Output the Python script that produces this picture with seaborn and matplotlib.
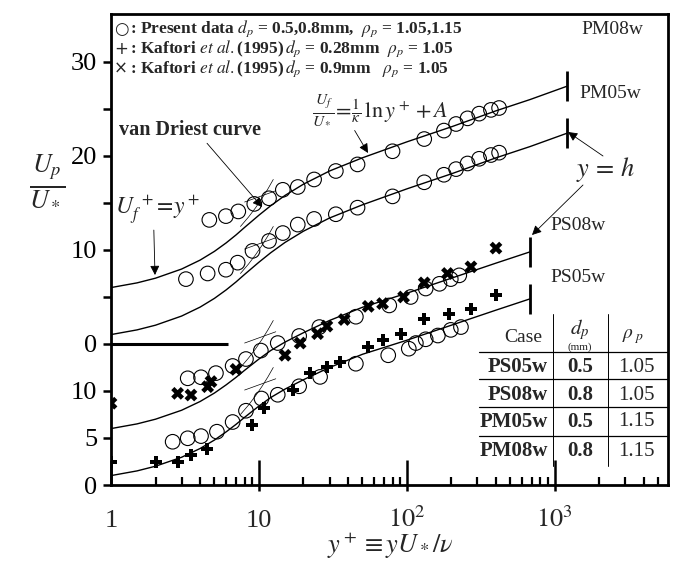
import numpy as np
import pandas as pd
import matplotlib
matplotlib.use("Agg")
import matplotlib.pyplot as plt
import seaborn as sns
from matplotlib.lines import Line2D
from matplotlib.transforms import blended_transform_factory
from matplotlib.ticker import FixedLocator, NullFormatter

sns.set_theme(style="ticks")
plt.rcParams['font.family'] = ['Liberation Serif', 'DejaVu Sans']
plt.rcParams['mathtext.fontset'] = 'stix'

# ---------------- data ----------------
# upper block (PM cases), values in the upper tick scale
pm08_x = [4.62, 5.98, 7.25, 9.3, 11.7, 14.5, 18.3, 23.6, 33.1, 46.4, 80, 131, 178, 215, 257, 308, 370, 420]
pm08_u = [13.2, 13.6, 14.1, 14.9, 15.5, 16.4, 16.7, 17.5, 18.4, 19.1, 20.5, 21.8, 22.7, 23.4, 24.0, 24.5, 24.9, 25.1]
pm05_x = [3.21, 4.5, 5.98, 7.18, 9.05, 11.7, 14.5, 18.3, 23.6, 33.1, 46.4, 80, 131, 178, 215, 257, 308, 370, 420]
pm05_u = [6.9, 7.5, 7.9, 8.65, 9.9, 10.96, 11.8, 12.7, 13.3, 13.8, 14.5, 15.7, 17.2, 18.0, 18.6, 19.2, 19.7, 20.1, 20.35]

# lower block (PS cases and Kaftori et al.), values in the lower tick scale
ps08_x = [3.3, 4.06, 5.12, 6.64, 8.17, 10.3, 13.4, 18.7, 25.6, 45.2, 76, 106, 134, 166, 198, 226]
ps08_u = [11.35, 11.46, 11.9, 12.66, 13.4, 14.3, 15.1, 15.85, 16.8, 17.9, 19.1, 20.0, 20.9, 21.4, 21.9, 22.3]
ps05_x = [2.61, 3.3, 4.06, 5.2, 6.64, 8.17, 10.4, 13.4, 18.7, 25.9, 45.2, 74.8, 103, 115, 134, 162, 198, 232]
ps05_u = [4.6, 4.97, 5.2, 5.67, 6.7, 7.9, 9.2, 9.6, 10.5, 11.5, 12.9, 13.8, 14.5, 15.1, 15.5, 15.9, 16.5, 16.8]

kaf028_x = [1.0, 2.01, 2.82, 3.47, 4.45, 8.93, 10.9, 16.9, 22.2, 28.8, 35.4, 54.8, 68.5, 91, 131, 193, 271, 400]
kaf028_u = [2.4, 2.48, 2.48, 3.19, 3.8, 6.4, 8.2, 10.1, 11.9, 12.5, 13.1, 14.65, 15.4, 16.1, 17.7, 18.2, 18.7, 20.2]
kaf09_x = [1.0, 2.82, 3.47, 4.5, 4.74, 7.0, 15, 19.0, 24.9, 28.8, 37.7, 54.8, 68.5, 95, 131, 188, 271, 400]
kaf09_u = [8.7, 9.75, 9.57, 10.46, 11.0, 12.3, 13.8, 15.1, 16.1, 16.9, 17.6, 19.0, 19.3, 20.0, 21.5, 22.5, 23.2, 25.2]

# van Driest curves (y+, U+)
vd_yp = [1, 1.5, 2, 3, 4, 5, 6, 7, 8, 10, 12, 15, 20, 30, 50, 100, 200, 400, 680, 1200]
vd_upper_u = [1.0, 1.5, 2.0, 2.97, 3.92, 4.85, 5.75, 6.6, 7.4, 8.7, 9.7, 10.8, 12.0, 13.4, 14.8, 16.5, 18.1, 19.8, 21.0, 22.4]
vd_lower_u = [1.0, 1.5, 2.0, 2.95, 3.88, 4.78, 5.65, 6.45, 7.2, 8.4, 9.3, 10.2, 11.2, 12.5, 13.9, 15.4, 17.0, 18.6, 19.8]
# short asymptote segments drawn near the crossing
loglaw_yp = [8, 13]
loglaw_up = [10.1, 11.3]
linear_yp = [7.5, 8.5, 9.5, 10.5, 11.5, 12.5]
linear_up = [7.5, 8.5, 9.5, 10.5, 11.5, 12.5]

# y = h ends of the profiles
h_pm = 1200
h_ps = 680
shift_08 = 5          # 08w curves shifted by 5
upper_zero = 15       # where the upper scale's 0 sits on the lower scale

ytick_pos = [0, 5, 10, 15, 25, 35, 45]
ytick_lab = ['0', '5', '10', '0', '10', '20', '30']
ytick_minor = [20, 30, 40]
xtick_pos = [1, 10, 100, 1000]
xtick_lab = ['1', '10', r'$10^2$', r'$10^3$']

table_cases = ['PS05w', 'PS08w', 'PM05w', 'PM08w']
table_dp = ['0.5', '0.8', '0.5', '0.8']
table_rho = ['1.05', '1.05', '1.15', '1.15']

# ---------------- figure ----------------
W, H = 678, 577
fig = plt.figure(figsize=(W / 100, H / 100), dpi=100)
ax = fig.add_axes([111 / W, 1 - 485 / H, (668 - 111) / W, (485 - 14) / H])
ax.set_xscale('log')
ax.set_xlim(1, 10 ** 3.765)
ax.set_ylim(0, 50.1)


def fx(px):
    return px / W


def fy(py):
    return 1 - py / H


# profile curves
vd_yp_a = np.array(vd_yp)
curves = [
    (h_pm, upper_zero + 0, vd_upper_u),
    (h_pm, upper_zero + shift_08, vd_upper_u),
    (h_ps, 0, vd_lower_u),
    (h_ps, shift_08, vd_lower_u),
]
for h, off, uu in curves:
    n = len(uu)
    xs = vd_yp_a[:n]
    m = xs <= h
    ys = np.array(uu)[m] + off
    sns.lineplot(x=xs[m], y=ys, sort=False, estimator=None,
                 color='black', lw=1.0, ax=ax)
    sns.lineplot(x=loglaw_yp, y=np.array(loglaw_up) + off, sort=False, estimator=None,
                 color='black', lw=0.5, ax=ax)
    sns.lineplot(x=linear_yp, y=np.array(linear_up) + off, sort=False, estimator=None,
                 color='black', lw=0.5, ax=ax)
    yend = ys[-1]
    ax.vlines(h, yend - 1.6, yend + 1.6, color='black', lw=2.0)

# separator of the two blocks
ax.hlines(upper_zero, 1, 6.2, color='black', lw=2.2)

# markers
circ = dict(marker='o', s=110, facecolor='none', edgecolor='black', linewidth=0.8, ax=ax, zorder=3)
sns.scatterplot(x=pm08_x, y=np.array(pm08_u) + upper_zero, **circ)
sns.scatterplot(x=pm05_x, y=np.array(pm05_u) + upper_zero, **circ)
sns.scatterplot(x=ps08_x, y=ps08_u, **circ)
sns.scatterplot(x=ps05_x, y=ps05_u, **circ)
sns.scatterplot(x=kaf028_x, y=kaf028_u, marker='P', s=75, color='black', edgecolor='none', ax=ax, zorder=4)
sns.scatterplot(x=kaf09_x, y=kaf09_u, marker='X', s=85, color='black', edgecolor='none', ax=ax, zorder=4)

# axes styling
for sp in ax.spines.values():
    sp.set_linewidth(2.0)
    sp.set_color('black')
ax.yaxis.set_major_locator(FixedLocator(ytick_pos))
ax.set_yticklabels(ytick_lab)
ax.yaxis.set_minor_locator(FixedLocator(ytick_minor))
ax.tick_params(axis='y', which='both', direction='out', length=6, width=1.8,
               labelsize=19, pad=4, colors='black')
ax.xaxis.set_major_locator(FixedLocator(xtick_pos))
ax.xaxis.set_major_formatter(NullFormatter())
ax.xaxis.set_minor_formatter(NullFormatter())
ax.tick_params(axis='x', which='major', direction='in', length=18, width=1.8, colors='black')
ax.tick_params(axis='x', which='minor', direction='in', length=5.5, width=1.6, colors='black')
# short outward stubs of the decade ticks
ax.vlines(xtick_pos[1:], -0.65, 0, color='black', lw=1.8, clip_on=False)
ax.set_xlabel('')
ax.set_ylabel('')
trans = blended_transform_factory(ax.transData, fig.transFigure)
for xp, lab in zip(xtick_pos, xtick_lab):
    ax.text(xp, fy(527), lab, transform=trans, ha='center', va='baseline', fontsize=19)

fig.text(fx(390), fy(553), r'$y^+\equiv yU_*/\nu$', ha='center', va='baseline', fontsize=19)
fig.text(fx(47), fy(180), r'$\frac{U_p}{U_*}$', ha='center', va='center', fontsize=27)

# legend block
leg_lines = [
    ('\u25cb', r': Present data $d_p$ = 0.5,0.8mm,  $\rho_p$ = 1.05,1.15'),
    ('+', r': Kaftori $et\ al.$(1995)$\,d_p$ = 0.28mm  $\rho_p$ = 1.05'),
    ('\u00d7', r': Kaftori $et\ al.$(1995)$\,d_p$ = 0.9mm   $\rho_p$ = 1.05'),
]
for i, (sym, txt) in enumerate(leg_lines):
    yy = fy(29 + 20 * i)
    fig.text(fx(121), yy, sym, ha='center', va='center', fontsize=12,
             family=['DejaVu Sans'])
    fig.text(fx(130), yy, txt, ha='left', va='center', fontsize=12.5, fontweight='bold')

# case labels
for txt, px, py in [('PM08w', 612, 30), ('PM05w', 610, 93), ('PS08w', 578, 226), ('PS05w', 578, 278)]:
    fig.text(fx(px), fy(py), txt, ha='center', va='center', fontsize=14)

arrow = dict(arrowstyle='-|>', color='black', lw=0.6, mutation_scale=14, shrinkA=0, shrinkB=0)
ax.annotate('van Driest curve', xy=(262, H - 207), xycoords='figure pixels',
            xytext=(190, H - 130), textcoords='figure pixels', ha='center', va='center',
            fontsize=14.5, fontweight='bold', arrowprops=dict(arrow, relpos=(0.6, 0)))
ax.annotate(r'$U_f^{\ +}\!=\!y^+$', xy=(155, H - 275), xycoords='figure pixels',
            xytext=(158, H - 210), textcoords='figure pixels', ha='center', va='center',
            fontsize=17, arrowprops=dict(arrow, relpos=(0.45, 0)))
ax.annotate(r'$\frac{U_f}{U_*}\!=\!\frac{1}{\kappa}\,\ln y^+ + A$', xy=(368, H - 153),
            xycoords='figure pixels', xytext=(380, H - 110), textcoords='figure pixels',
            ha='center', va='center', fontsize=16, arrowprops=dict(arrow, relpos=(0.3, 0)))
fig.text(fx(605), fy(170), r'$y\,=\,h$', ha='center', va='center', fontsize=19)
ax.annotate('', xy=(568, H - 132), xycoords='figure pixels', xytext=(603, H - 156),
            textcoords='figure pixels', arrowprops=arrow)
ax.annotate('', xy=(532, H - 235), xycoords='figure pixels', xytext=(583, H - 185),
            textcoords='figure pixels', arrowprops=arrow)

# table
def fline(x0, y0, x1, y1, lw=0.9):
    fig.add_artist(Line2D([fx(x0), fx(x1)], [fy(y0), fy(y1)], transform=fig.transFigure,
                          color='black', lw=lw))

for yy in [352, 379, 407, 436]:
    fline(479, yy, 667, yy)
for xx in [553, 608]:
    fline(xx, 314, xx, 466, lw=0.7)
fig.text(fx(523), fy(338), 'Case', ha='center', va='center', fontsize=14)
fig.text(fx(580), fy(330), r'$d_p$', ha='center', va='center', fontsize=15)
fig.text(fx(580), fy(347), '(mm)', ha='center', va='center', fontsize=8)
fig.text(fx(633), fy(337), r'$\rho_{\ p}$', ha='center', va='center', fontsize=14)
row_y = [367, 395, 422, 451]
for yy, c, d, r in zip(row_y, table_cases, table_dp, table_rho):
    fig.text(fx(548), fy(yy), c, ha='right', va='center', fontsize=15, fontweight='bold')
    fig.text(fx(580), fy(yy), d, ha='center', va='center', fontsize=15, fontweight='bold')
    fig.text(fx(636), fy(yy), r, ha='center', va='center', fontsize=15)

fig.savefig('out.png', dpi=100)
